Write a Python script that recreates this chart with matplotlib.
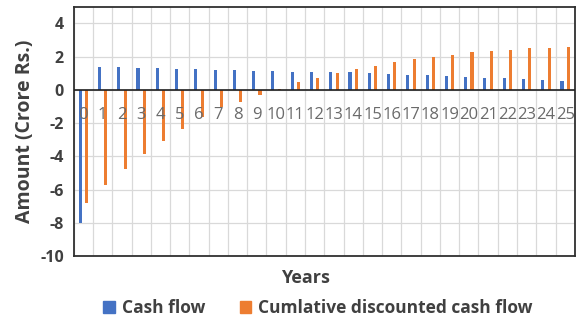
import matplotlib
matplotlib.use("Agg")
import matplotlib.pyplot as plt
from matplotlib.patches import Patch
import numpy as np

years = list(range(26))
cash_flow = [-8.0, 1.35, 1.35, 1.29, 1.29, 1.25, 1.25, 1.18, 1.18, 1.14, 1.14,
             1.08, 1.08, 1.06, 1.06, 1.0, 0.96, 0.9, 0.9, 0.84, 0.8, 0.74, 0.7,
             0.64, 0.58, 0.52]
cum_disc = [-6.83, -5.72, -4.78, -3.84, -3.09, -2.37, -1.62, -1.06, -0.72, -0.32,
            0.05, 0.46, 0.74, 1.0, 1.26, 1.46, 1.66, 1.84, 2.0, 2.1, 2.26, 2.34,
            2.4, 2.5, 2.54, 2.58]
yticks = [-10, -8, -6, -4, -2, 0, 2, 4]

plt.rcParams['font.family'] = ['Open Sans', 'DejaVu Sans']

fig = plt.figure(figsize=(5.76, 3.22), dpi=100)
ax = fig.add_axes([0.128, 0.205, 0.870, 0.774])

x = np.arange(len(years))
ax.bar(x - 0.165, cash_flow, width=0.16, color='#4472C4', zorder=3)
ax.bar(x + 0.165, cum_disc, width=0.16, color='#ED7D31', zorder=3)

ax.set_xlim(-0.5, len(years) - 0.5)
ax.set_ylim(-10, 5)
ax.set_yticks(yticks)
ax.set_yticklabels([str(v) for v in yticks], fontsize=11.5, fontweight='bold', color='#404040')
ax.tick_params(axis='y', length=0, pad=7)
ax.set_xticks(np.arange(-0.5, len(years), 1))
ax.set_xticklabels([])
ax.tick_params(axis='x', length=0)
ax.grid(True, color='#d9d9d9', linewidth=0.9, zorder=0)
ax.axhline(0, color='#202020', linewidth=1.2, zorder=4)
for s in ax.spines.values():
    s.set_color('#303030')
    s.set_linewidth(1.3)

for i, yr in enumerate(years):
    ax.text(i, -1.05, str(yr), ha='center', va='top', fontsize=12,
            color='#6a6a6a', zorder=5)

ax.set_ylabel('Amount (Crore Rs.)', fontsize=14, fontweight='bold', color='#404040', labelpad=4)
fig.text(305 / 576, 1 - 278 / 322, 'Years', ha='center', va='center',
         fontsize=13, fontweight='bold', color='#404040')

handles = [Patch(color='#4472C4', label='Cash flow'),
           Patch(color='#ED7D31', label='Cumlative discounted cash flow')]
fig.legend(handles=handles, loc='center', bbox_to_anchor=(318 / 576, 1 - 308 / 322),
           ncol=2, frameon=False, handlelength=0.65, handleheight=0.65,
           handletextpad=0.4, columnspacing=2.0,
           prop={'size': 12.5, 'weight': 'bold'}, labelcolor='#404040')

fig.savefig('out.png', dpi=100)
